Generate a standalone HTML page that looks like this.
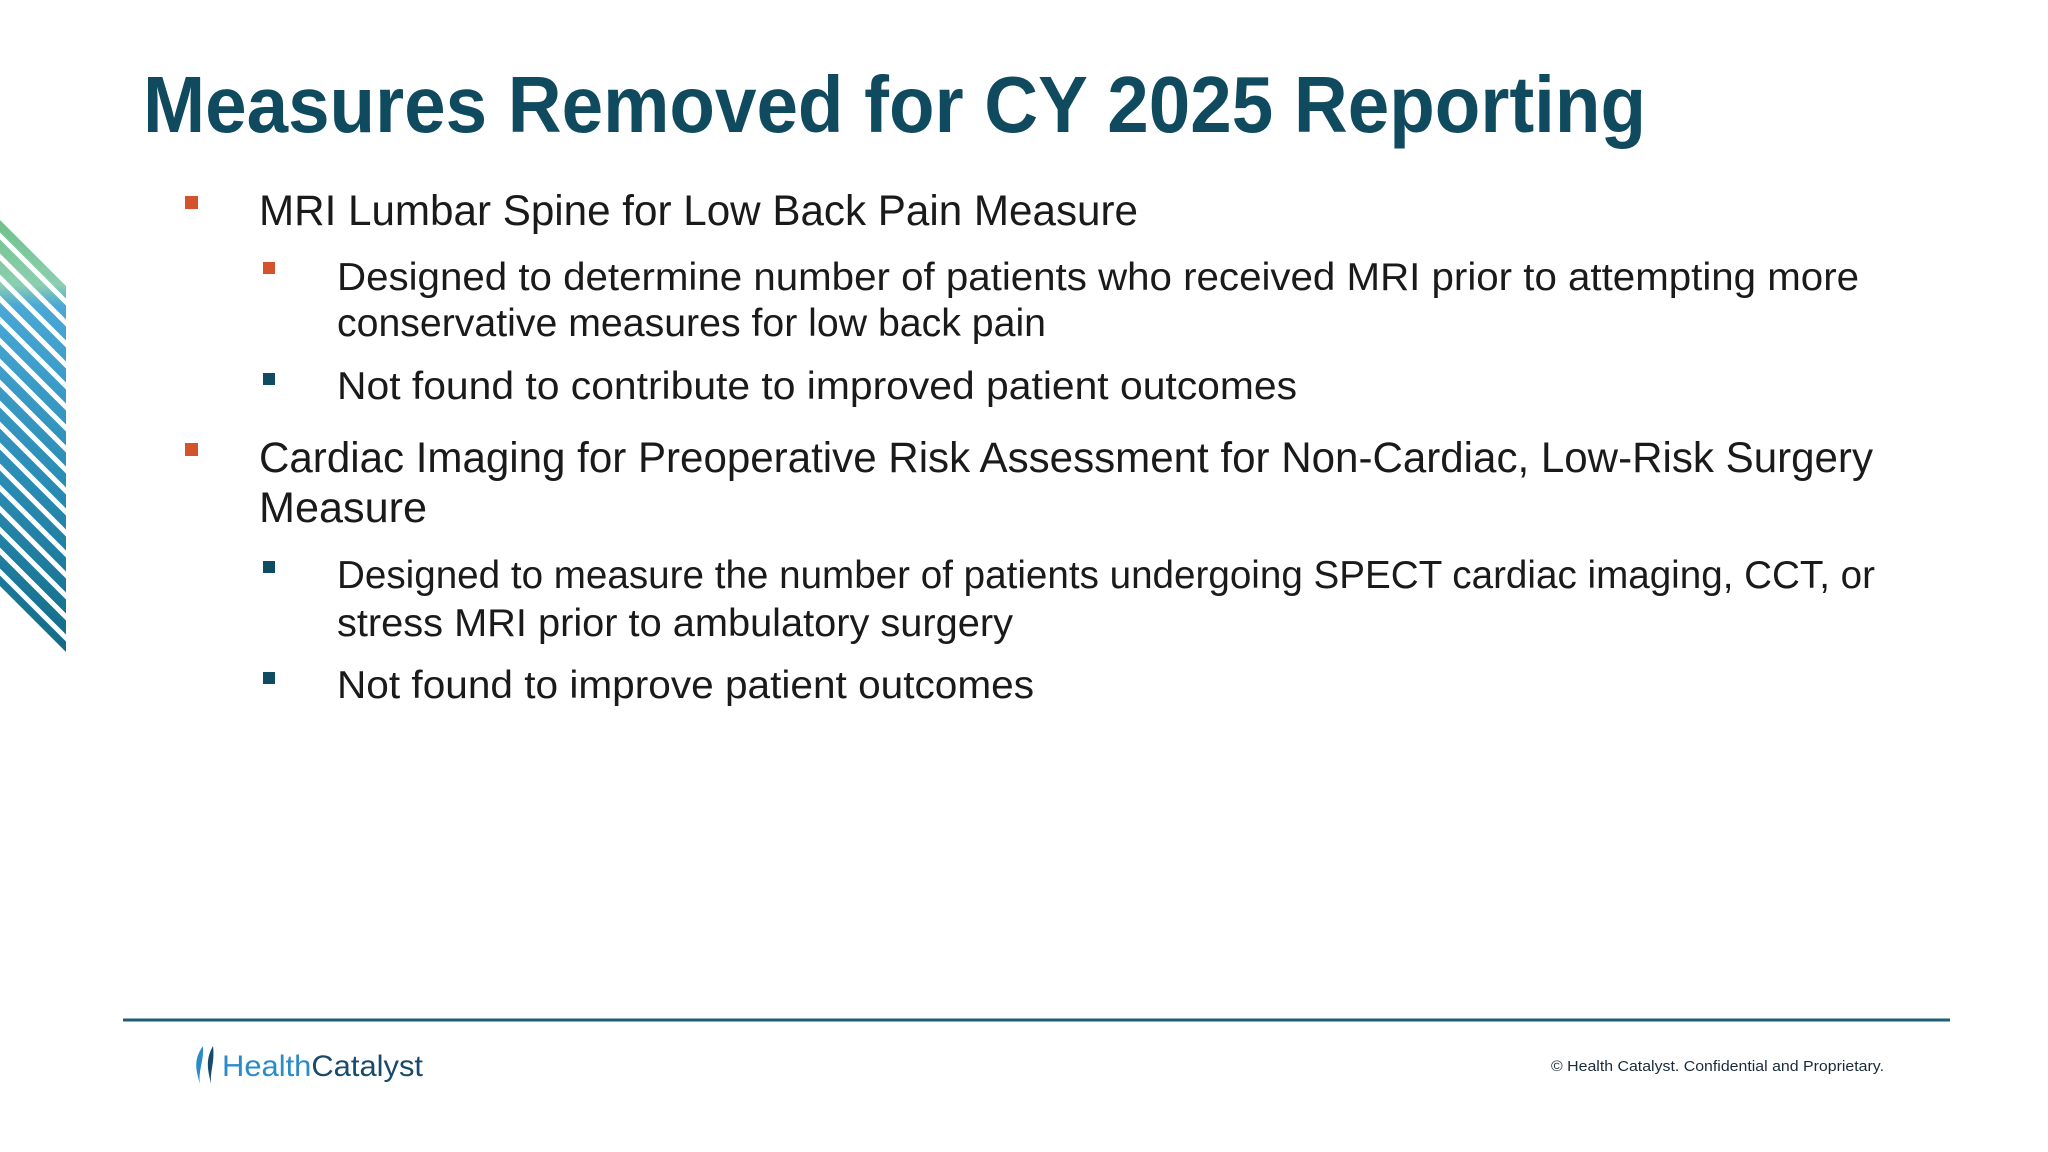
<!DOCTYPE html>
<html><head><meta charset="utf-8"><style>
html,body{margin:0;padding:0;background:#fff;}
svg{display:block;}
text{font-family:"Liberation Sans",sans-serif;}
</style></head><body>
<svg width="2048" height="1152" viewBox="0 0 2048 1152">
<defs>
<linearGradient id="sg" x1="0" y1="220" x2="0" y2="650" gradientUnits="userSpaceOnUse">
<stop offset="0" stop-color="#6fc08a"/><stop offset="0.15" stop-color="#8ccfb0"/>
<stop offset="0.2" stop-color="#4aa7d6"/><stop offset="0.6" stop-color="#2a8db5"/>
<stop offset="1" stop-color="#136b86"/></linearGradient>
<clipPath id="pc"><polygon points="0,220 66,286 66,652 0,586"/></clipPath>
</defs>
<g clip-path="url(#pc)">
<rect x="0" y="200" width="70" height="470" fill="url(#sg)"/>
<g stroke="#fff" stroke-width="5">
<line x1="-10" y1="226" x2="80" y2="316"/><line x1="-10" y1="247" x2="80" y2="337"/>
<line x1="-10" y1="268" x2="80" y2="358"/><line x1="-10" y1="289" x2="80" y2="379"/>
<line x1="-10" y1="310" x2="80" y2="400"/><line x1="-10" y1="331" x2="80" y2="421"/>
<line x1="-10" y1="352" x2="80" y2="442"/><line x1="-10" y1="373" x2="80" y2="463"/>
<line x1="-10" y1="394" x2="80" y2="484"/><line x1="-10" y1="415" x2="80" y2="505"/>
<line x1="-10" y1="436" x2="80" y2="526"/><line x1="-10" y1="457" x2="80" y2="547"/>
<line x1="-10" y1="478" x2="80" y2="568"/><line x1="-10" y1="499" x2="80" y2="589"/>
<line x1="-10" y1="520" x2="80" y2="610"/><line x1="-10" y1="541" x2="80" y2="631"/>
<line x1="-10" y1="562" x2="80" y2="652"/>
</g></g>
<text x="143" y="132" font-size="80" font-weight="bold" fill="#0f4a5f" textLength="1503" lengthAdjust="spacingAndGlyphs">Measures Removed for CY 2025 Reporting</text>
<g fill="#1a1a1a">
<rect x="185" y="196" width="13" height="13" fill="#d4532c"/>
<text x="259" y="225" font-size="43" textLength="879" lengthAdjust="spacingAndGlyphs">MRI Lumbar Spine for Low Back Pain Measure</text>
<rect x="263" y="262" width="12" height="12" fill="#d4532c"/>
<text x="337" y="290" font-size="39" textLength="1522" lengthAdjust="spacingAndGlyphs">Designed to determine number of patients who received MRI prior to attempting more</text>
<text x="337" y="336" font-size="39" textLength="709" lengthAdjust="spacingAndGlyphs">conservative measures for low back pain</text>
<rect x="263" y="373" width="12" height="12" fill="#0f4c62"/>
<text x="337" y="399" font-size="39" textLength="960" lengthAdjust="spacingAndGlyphs">Not found to contribute to improved patient outcomes</text>
<rect x="185" y="443" width="13" height="13" fill="#d4532c"/>
<text x="259" y="472" font-size="43" textLength="1614" lengthAdjust="spacingAndGlyphs">Cardiac Imaging for Preoperative Risk Assessment for Non-Cardiac, Low-Risk Surgery</text>
<text x="259" y="522" font-size="43" textLength="168" lengthAdjust="spacingAndGlyphs">Measure</text>
<rect x="263" y="561" width="12" height="12" fill="#0f4c62"/>
<text x="337" y="588" font-size="39" textLength="1538" lengthAdjust="spacingAndGlyphs">Designed to measure the number of patients undergoing SPECT cardiac imaging, CCT, or</text>
<text x="337" y="636" font-size="39" textLength="676" lengthAdjust="spacingAndGlyphs">stress MRI prior to ambulatory surgery</text>
<rect x="263" y="672" width="12" height="12" fill="#0f4c62"/>
<text x="337" y="698" font-size="39" textLength="697" lengthAdjust="spacingAndGlyphs">Not found to improve patient outcomes</text>
</g>
<line x1="123" y1="1020" x2="1950" y2="1020" stroke="#1a5f73" stroke-width="3"/>
<g>
<path d="M203,1046 C193,1060 196,1070 200,1084 C198,1070 204,1062 203,1046 Z" fill="#2a8bc9"/>
<path d="M213,1046 C205,1060 208,1070 211,1084 C210,1070 215,1062 213,1046 Z" fill="#1a4a6b"/>
<text x="222" y="1076" font-size="30" fill="#2a8bc9" textLength="201" lengthAdjust="spacingAndGlyphs">Health<tspan fill="#1a4a6b">Catalyst</tspan></text>
</g>
<text x="1551" y="1071" font-size="15" fill="#1a2a3a" textLength="333" lengthAdjust="spacingAndGlyphs">© Health Catalyst. Confidential and Proprietary.</text>
</svg>
</body></html>
